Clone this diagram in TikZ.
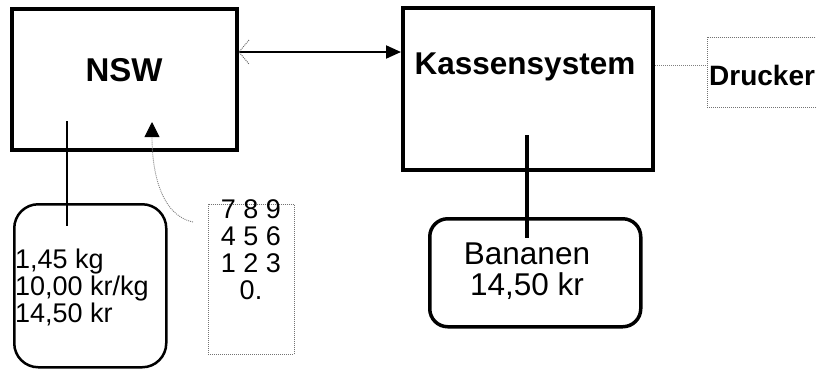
\documentclass[tikz,border=0pt]{standalone}
\usepackage{fontspec}
\setmainfont{Liberation Sans}
\usetikzlibrary{arrows.meta}
\begin{document}
\begin{tikzpicture}[x=1pt,y=-1pt,
  heavybox/.style={draw=black, line width=4pt, minimum width=#1},
  dotbox/.style={draw=black!55, line width=0.9pt, dash pattern=on 1pt off 1pt},
  dotline/.style={draw=black!50, line width=0.9pt, dash pattern=on 1pt off 1pt},
  roundbox/.style={draw=black, rounded corners=#1},
  boldlabel/.style={font=\fontsize{#1}{#1}\selectfont\bfseries, inner sep=0pt},
  plainlabel/.style={font=\fontsize{#1}{#1}\selectfont, inner sep=0pt}
]
\useasboundingbox (0,0) rectangle (816,368);
\clip (0,0) rectangle (816,368);

% main units
\node[heavybox=225, minimum height=141] (nsw) at (124.5,79.5) {};
\node[boldlabel=33] (nswtxt) at (124,70) {NSW};
\node[heavybox=250, minimum height=162] (kasse) at (528,89) {};
\node[boldlabel=31.5] (kassetxt) at (525,67) {Kassensystem};

% printer (box runs past the right edge)
\node[dotbox, minimum width=120, minimum height=70, anchor=north west] (drucker) at (707,37) {};
\node[boldlabel=28, anchor=west] (druckertxt) at (709,75) {Drucker};

% display of the scale
\node[roundbox=24pt, line width=2.5pt, minimum width=152, minimum height=163, anchor=north west] (waage) at (13,203) {};
\node[plainlabel=27, anchor=north west, align=left] (waagetxt) at (15,249)
  {\fontsize{27}{23.5}\selectfont 1,45 kg\\10,00 kr/kg\\14,50 kr};

% keypad
\node[dotbox, minimum width=86, minimum height=150, anchor=north west] (tasten) at (208,204) {};
\node[plainlabel=27, align=center] (tastentxt) at (251,250)
  {\fontsize{27}{23.7}\selectfont 7 8 9\\4 5 6\\1 2 3\\0.};

% receipt display
\node[roundbox=18pt, line width=3.5pt, minimum width=211, minimum height=108, anchor=north west] (bananen) at (428,217) {};
\node[plainlabel=31.5, align=center] (bananentxt) at (527,271)
  {\fontsize{31.5}{39}\selectfont Bananen\\14,50 kr};

% connectors
\coordinate (link) at (0,52);
\draw[line width=2pt, -{Triangle[length=15pt,width=13pt]}] (nsw.east |- link) -- (kasse.west |- link);
\draw[black!60, line width=0.9pt, dash pattern=on 1pt off 1pt]
  ([shift={(10,-12)}]nsw.east |- link) -- (nsw.east |- link) -- ([shift={(10,12)}]nsw.east |- link);

\coordinate (druck) at (0,65);
\draw[dotline] (kasse.east |- druck) -- (drucker.west |- druck);

\coordinate (w1) at (67,121);
\coordinate (w2) at (67,226);
\draw[line width=2pt] (w1) -- (w2);

\coordinate (b1) at (527,135);
\coordinate (b2) at (527,238);
\draw[line width=4pt] (b1) -- (b2);

\coordinate (k1) at (193,222);
\coordinate (k2) at (152,122);
\draw[dotline, -{Triangle[length=15pt,width=15pt,fill=black,color=black]}]
  (k1) .. controls (160,215) and (152,170) .. (k2);
\end{tikzpicture}
\end{document}
